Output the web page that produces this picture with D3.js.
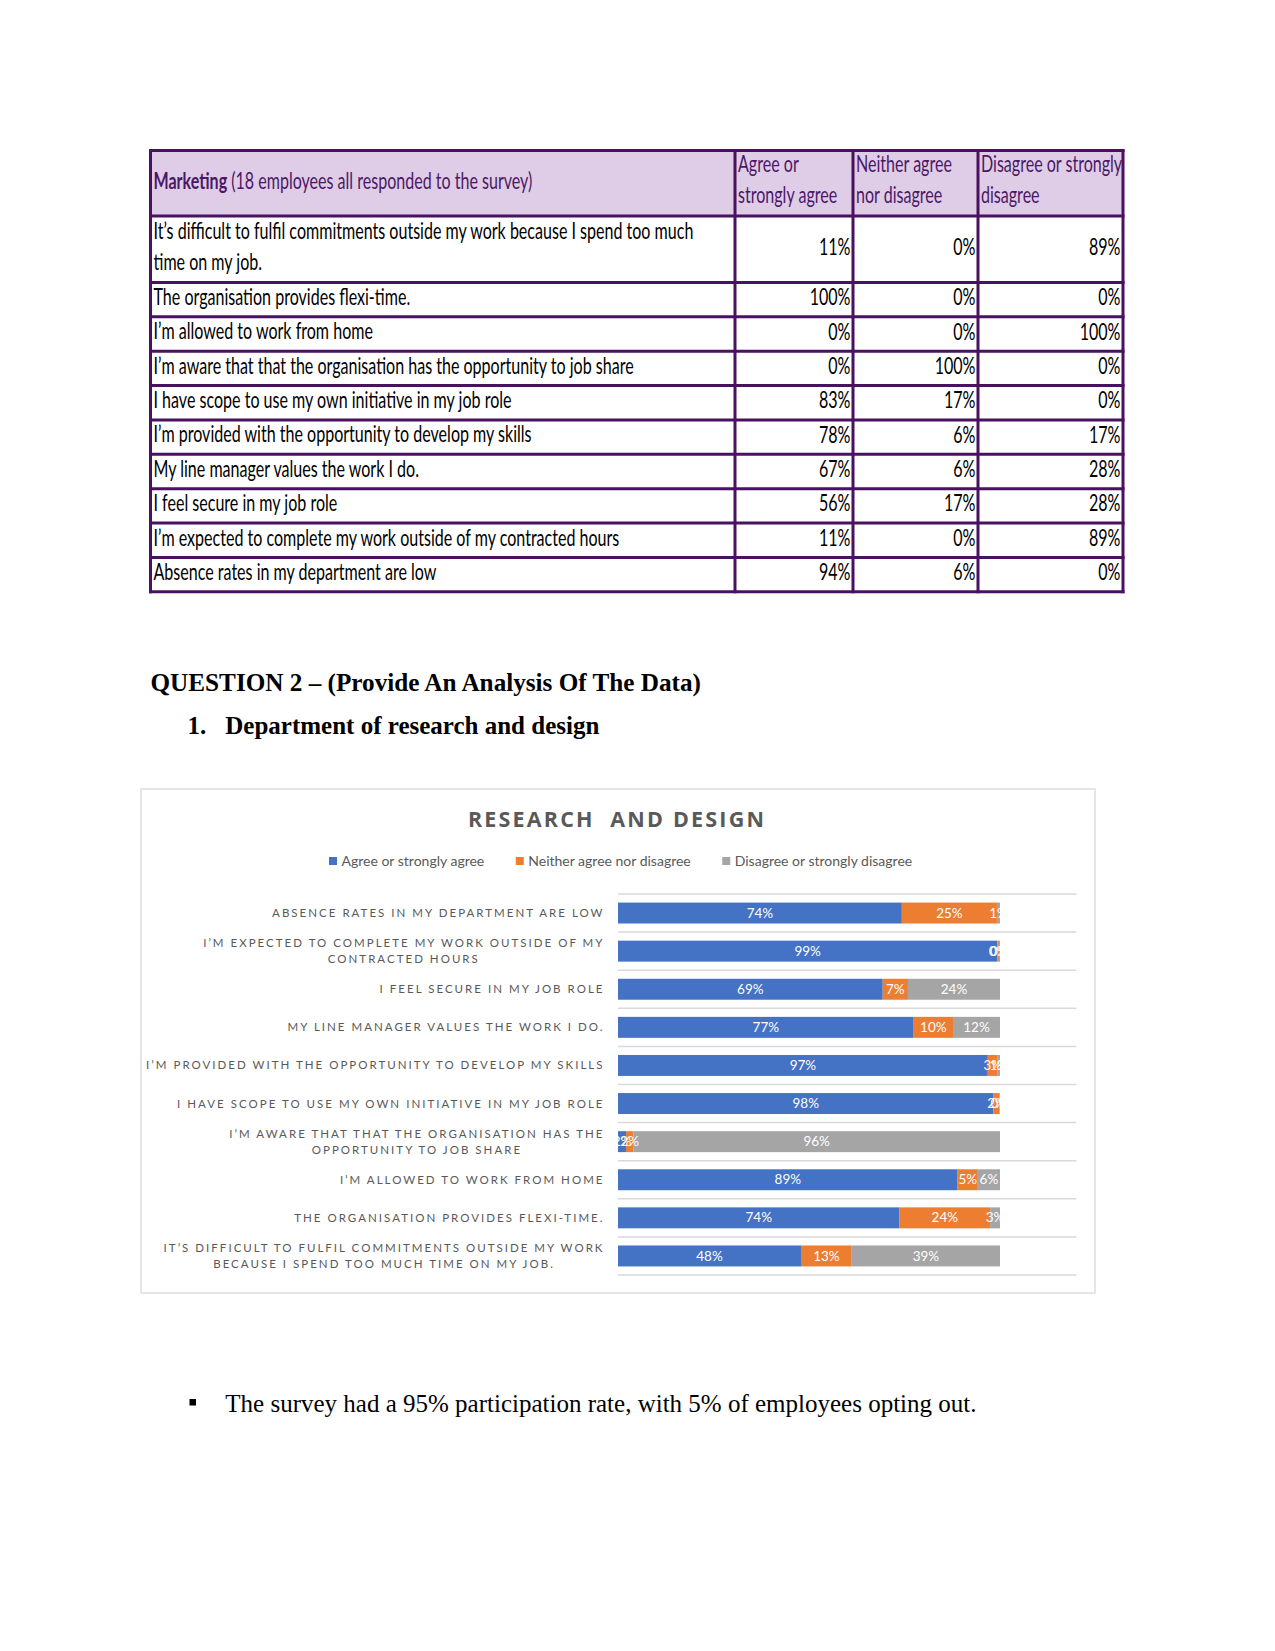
<!DOCTYPE html>
<html><head><meta charset="utf-8">
<script src="https://cdn.jsdelivr.net/npm/d3@7"></script>
<style>
body{margin:0;background:#fff}
svg{display:block}
</style>
</head><body>
<svg id="page" width="1275" height="1651"></svg>
<script>
// ---------------- data ----------------
const tableTitle = "Marketing";
const tableSubtitle = " (18 employees all responded to the survey)";
const tableColumns = [["Agree or", "strongly agree"], ["Neither agree", "nor disagree"], ["Disagree or strongly", "disagree"]];
const tableStatements = [
  ["It\u2019s difficult to fulfil commitments outside my work because I spend too much", "time on my job."],
  ["The organisation provides flexi-time."],
  ["I\u2019m allowed to work from home"],
  ["I\u2019m aware that that the organisation has the opportunity to job share"],
  ["I have scope to use my own initiative in my job role"],
  ["I\u2019m provided with the opportunity to develop my skills"],
  ["My line manager values the work I do."],
  ["I feel secure in my job role"],
  ["I\u2019m expected to complete my work outside of my contracted hours"],
  ["Absence rates in my department are low"]
];
const tableAgree    = [11, 100, 0, 0, 83, 78, 67, 56, 11, 94];
const tableNeither  = [0, 0, 0, 100, 17, 6, 6, 17, 0, 6];
const tableDisagree = [89, 0, 100, 0, 0, 17, 28, 28, 89, 0];

const headingText = "QUESTION 2 \u2013 (Provide An Analysis Of The Data)";
const subheadingNumber = "1.";
const subheadingText = "Department of research and design";

const chartTitle = "RESEARCH  AND DESIGN";
const seriesNames = ["Agree or strongly agree", "Neither agree nor disagree", "Disagree or strongly disagree"];
const seriesColors = ["#4472C4", "#ED7D31", "#A5A5A5"];
const chartCategories = [
  ["ABSENCE RATES IN MY DEPARTMENT ARE LOW"],
  ["I\u2019M EXPECTED TO COMPLETE MY WORK OUTSIDE OF MY", "CONTRACTED HOURS"],
  ["I FEEL SECURE IN MY JOB ROLE"],
  ["MY LINE MANAGER VALUES THE WORK I DO."],
  ["I\u2019M PROVIDED WITH THE OPPORTUNITY TO DEVELOP MY SKILLS"],
  ["I HAVE SCOPE TO USE MY OWN INITIATIVE IN MY JOB ROLE"],
  ["I\u2019M AWARE THAT THAT THE ORGANISATION HAS THE", "OPPORTUNITY TO JOB SHARE"],
  ["I\u2019M ALLOWED TO WORK FROM HOME"],
  ["THE ORGANISATION PROVIDES FLEXI-TIME."],
  ["IT\u2019S DIFFICULT TO FULFIL COMMITMENTS OUTSIDE MY WORK", "BECAUSE I SPEND TOO MUCH TIME ON MY JOB."]
];
const agreeValues    = [0.743, 0.993, 0.693, 0.774, 0.968, 0.983, 0.021, 0.889, 0.737, 0.479];
const neitherValues  = [0.249, 0.004, 0.066, 0.103, 0.026, 0.016, 0.019, 0.053, 0.237, 0.133];
const disagreeValues = [0.008, 0.003, 0.241, 0.123, 0.006, 0.001, 0.960, 0.058, 0.026, 0.388];

const bulletText = "The survey had a 95% participation rate, with 5% of employees opting out.";

// ---------------- drawing ----------------
const svg = d3.select("#page");
svg.append("rect").attr("width", 1275).attr("height", 1651).attr("fill", "#fff");

// ===== Table =====
const tableFont = "Lato, 'Liberation Sans', sans-serif";
const tFontSize = 23;
const purple = "#4b1766";
const borderCol = "#4a1160";
const colX = [150.5, 735, 853, 978, 1123];
const tableTop = 150.5;
const lineRowH = 34.36;

// calibrate horizontal squeeze of the condensed table font
const probe = svg.append("text").attr("font-family", tableFont).attr("font-size", tFontSize).text(tableStatements[0][0]);
const sx = 540 / probe.node().getComputedTextLength();
probe.remove();

const rowsSpec = [{type: "header", lines: 2}].concat(tableStatements.map((s, i) => ({type: "row", lines: s.length, i})));
let yAcc = tableTop;
rowsSpec.forEach(r => { r.y = yAcc; r.h = r.lines === 2 ? (r.type === "header" ? 65.5 : 66.5) : lineRowH; yAcc += r.h; });
const tableBottom = yAcc;

const tg = svg.append("g");
tg.append("rect").attr("x", colX[0]).attr("y", tableTop).attr("width", colX[4] - colX[0]).attr("height", rowsSpec[0].h).attr("fill", "#dfcde7");

function tText(x, y, anchor) {
  return tg.append("text").attr("transform", `translate(${x},${y}) scale(${sx},1)`)
    .attr("text-anchor", anchor).attr("font-family", tableFont).attr("font-size", tFontSize).attr("fill", "#000");
}
const hdr = rowsSpec[0];
const ht = tText(colX[0] + 3, hdr.y + hdr.h / 2 + 5.5, "start").attr("fill", purple);
ht.append("tspan").attr("font-weight", 700).text(tableTitle);
ht.append("tspan").text(tableSubtitle);
tableColumns.forEach((lines, c) => {
  lines.forEach((ln, k) => tText(colX[c + 1] + 3, hdr.y + 21 + k * 31.5, "start").attr("fill", purple).text(ln));
});
const valueCols = [tableAgree, tableNeither, tableDisagree];
rowsSpec.slice(1).forEach(r => {
  tableStatements[r.i].forEach((ln, k) => tText(colX[0] + 3, r.y + 22.5 + k * 31.5, "start").text(ln));
  valueCols.forEach((arr, c) => {
    tText(colX[c + 2] - 2.5, r.y + r.h / 2 + 5.5, "end").text(arr[r.i] + "%");
  });
});
rowsSpec.forEach(r => tg.append("line").attr("x1", colX[0]).attr("x2", colX[4]).attr("y1", r.y).attr("y2", r.y));
tg.append("line").attr("x1", colX[0]).attr("x2", colX[4]).attr("y1", tableBottom).attr("y2", tableBottom);
colX.forEach(x => tg.append("line").attr("x1", x).attr("x2", x).attr("y1", tableTop).attr("y2", tableBottom));
tg.selectAll("line").attr("stroke", borderCol).attr("stroke-width", 3).attr("stroke-linecap", "square");

// ===== Headings =====
const serif = "'Liberation Serif', 'Times New Roman', serif";
svg.append("text").attr("x", 150.5).attr("y", 691).attr("font-family", serif).attr("font-weight", 700)
  .attr("font-size", 25.2).attr("fill", "#000").text(headingText);
svg.append("text").attr("x", 187.5).attr("y", 733.5).attr("font-family", serif).attr("font-weight", 700)
  .attr("font-size", 25).attr("fill", "#000").text(subheadingNumber);
svg.append("text").attr("x", 225.3).attr("y", 733.5).attr("font-family", serif).attr("font-weight", 700)
  .attr("font-size", 25).attr("fill", "#000").text(subheadingText);

// ===== Chart =====
const chartFont = "Lato, 'Open Sans', sans-serif";
const grayText = "#595959";
const frame = {x: 141, y: 789, w: 954, h: 504};
const cg = svg.append("g");
cg.append("rect").attr("x", frame.x).attr("y", frame.y).attr("width", frame.w).attr("height", frame.h)
  .attr("fill", "#fff").attr("stroke", "#d9d9d9").attr("stroke-width", 1.3);

const cx = frame.x + frame.w / 2;
cg.append("text").attr("x", cx - 1).attr("y", 826.5).attr("text-anchor", "middle")
  .attr("font-family", "'Open Sans', sans-serif").attr("font-weight", 700).attr("font-size", 21.5)
  .attr("letter-spacing", 2.2).attr("fill", grayText).style("white-space", "pre").text(chartTitle);

// legend
const lg = cg.append("g");
let lx = 0;
seriesNames.forEach((n, i) => {
  const g = lg.append("g");
  g.append("rect").attr("x", 0).attr("y", -4).attr("width", 8).attr("height", 8).attr("fill", seriesColors[i]);
  const t = g.append("text").attr("x", 12.5).attr("y", 4.8).attr("font-family", chartFont).attr("font-size", 14)
    .attr("fill", grayText).text(n);
  const w = 12.5 + t.node().getComputedTextLength();
  g.attr("transform", `translate(${lx},0)`);
  lx += w + 31.5;
});
const legendW = lx - 31.5;
lg.attr("transform", `translate(${620.6 - legendW / 2},861)`);

// scales
const plotTop = 894, plotBottom = 1275, plotLeft = 618;
const idx = d3.range(chartCategories.length);
const yb = d3.scaleBand().domain(idx).range([plotTop, plotBottom]);
const yBar = d3.scaleBand().domain(idx).range([plotTop, plotBottom]).paddingInner(0.45).paddingOuter(0.225);
const x = d3.scaleLinear().domain([0, 1.2]).range([plotLeft, plotLeft + 1.2 * 382]);

const gridYs = idx.map(i => yb(i)).concat([plotBottom]);
cg.append("g").selectAll("line").data(gridYs).join("line")
  .attr("x1", x(0)).attr("x2", x(1.2)).attr("y1", d => d).attr("y2", d => d)
  .attr("stroke", "#d9d9d9").attr("stroke-width", 1.5);

const rows = idx.map(i => ({i, a: agreeValues[i], n: neitherValues[i], d: disagreeValues[i]}));
const stack = d3.stack().keys(["a", "n", "d"])(rows);
const barG = cg.append("g");
stack.forEach((layer, k) => {
  barG.append("g").attr("fill", seriesColors[k]).selectAll("rect").data(layer).join("rect")
    .attr("x", d => x(d[0])).attr("width", d => x(d[1]) - x(d[0]))
    .attr("y", d => yBar(d.data.i)).attr("height", yBar.bandwidth());
});
svg.append("defs").append("clipPath").attr("id", "barclip").append("rect")
  .attr("x", x(0)).attr("y", plotTop).attr("width", x(1) - x(0) + 1.5).attr("height", plotBottom - plotTop);
const fmt = d3.format(".0%");
const labG = cg.append("g").attr("clip-path", "url(#barclip)");
stack.forEach((layer, k) => {
  labG.append("g").selectAll("text").data(layer).join("text")
    .attr("x", d => (x(d[0]) + x(d[1])) / 2).attr("y", d => yBar(d.data.i) + yBar.bandwidth() / 2 + 4.6)
    .attr("text-anchor", "middle").attr("font-family", chartFont).attr("font-size", 13.5).attr("fill", "#fff")
    .text(d => fmt(d[1] - d[0]));
});

// category labels
const labelRight = 604.5;
const catG = cg.append("g");
idx.forEach(i => {
  const lines = chartCategories[i];
  const cy = yb(i) + yb.bandwidth() / 2;
  const ts = lines.map((ln, k) => catG.append("text")
    .attr("y", cy + 4 + (k - (lines.length - 1) / 2) * 16)
    .attr("font-family", chartFont).attr("font-size", 11.5).attr("letter-spacing", 2.02)
    .attr("fill", grayText).text(ln));
  const widths = ts.map(t => t.node().getComputedTextLength());
  const maxW = d3.max(widths);
  const center = labelRight - maxW / 2;
  ts.forEach(t => t.attr("x", center).attr("text-anchor", "middle"));
});

// ===== Bullet =====
svg.append("rect").attr("x", 189.5).attr("y", 1399).attr("width", 6.5).attr("height", 6.5).attr("fill", "#000");
svg.append("text").attr("x", 225.3).attr("y", 1412).attr("font-family", serif).attr("font-size", 25)
  .attr("fill", "#000").text(bulletText);
</script>
</body></html>
